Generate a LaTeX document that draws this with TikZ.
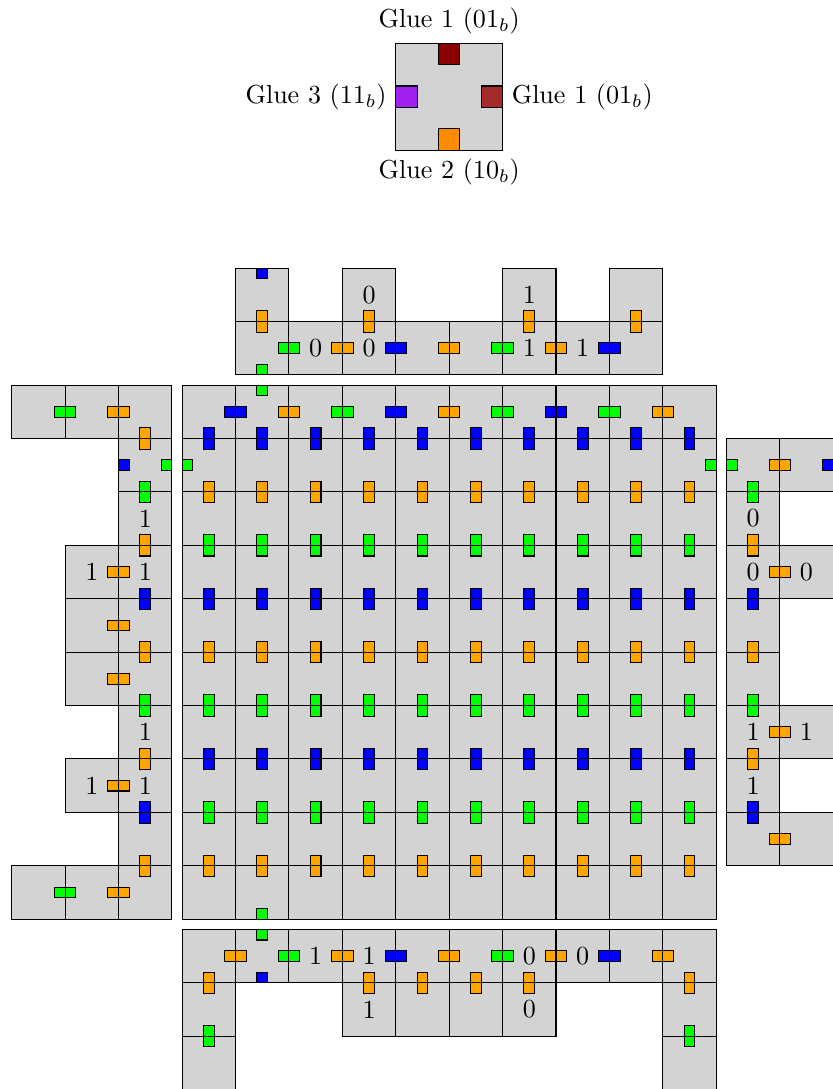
\documentclass[tikz,border=0pt]{standalone}
\usepackage{xcolor}

\definecolor{tilegray}{HTML}{D3D3D3}
\definecolor{gorange}{HTML}{FFA500}
\definecolor{ggreen}{HTML}{00FF00}
\definecolor{gblue}{HTML}{0000FF}
\definecolor{gdarkred}{HTML}{8B0000}
\definecolor{gbrown}{HTML}{A52A2A}
\definecolor{gpurple}{HTML}{A020F0}
\definecolor{gdarkorange}{HTML}{FF8C00}

\tikzset{
  tilebox/.style={draw=black, fill=tilegray},
  gluebox/.style={draw=black},
  bit/.style={inner sep=0pt},
}

% gap between the blocks
\newcommand{\tgap}{0.19}
% one glue square, lower left corner
\newcommand{\glueS}[3]{\filldraw[gluebox, fill=#1] (#2,#3) rectangle ++(0.2,0.2);}
% glue pair across a horizontal edge (column x, edge y)
\newcommand{\glueV}[3]{\glueS{#1}{#2+0.4}{#3-0.2}\glueS{#1}{#2+0.4}{#3}}
% glue pair across a vertical edge (edge x, row y)
\newcommand{\glueH}[3]{\glueS{#1}{#2-0.2}{#3+0.4}\glueS{#1}{#2}{#3+0.4}}

\begin{document}
\begin{tikzpicture}[x=0.72cm, y=0.72cm]
                \useasboundingbox (-3.41,-3.18) rectangle (12.17,17.21);

                % Tile type
                \draw[tilebox] (4,14.4) rectangle (6,16.4);
                \filldraw[gluebox, fill=gdarkred] (4.8,16) rectangle (5.2,16.4);
                \filldraw[gluebox, fill=gdarkorange] (4.8,14.4) rectangle (5.2,14.8);
                \filldraw[gluebox, fill=gpurple] (4,15.2) rectangle (4.4,15.6);
                \filldraw[gluebox, fill=gbrown] (5.6,15.2) rectangle (6,15.6);
                \node[above] (gnorth) at (5,16.4) {Glue 1 ($01_b$)};
                \node[below] (gsouth) at (5,14.4) {Glue 2 ($10_b$)};
                \node[left] (gwest) at (4,15.4) {Glue 3 ($11_b$)};
                \node[right] (geast) at (6,15.4) {Glue 1 ($01_b$)};

                % Main square
                \foreach \i in {0,...,9}
                    \foreach \j in {0,...,9}
                        {\draw[tilebox] (\i,\j) rectangle ++(1,1);}
                \foreach \j/\col in {9/gblue,8/gorange,7/ggreen,6/gblue,5/gorange,4/ggreen,3/gblue,2/ggreen,1/gorange}
                    \foreach \i in {0,...,9}
                        {\glueV{\col}{\i}{\j}}
                \foreach \x/\col in {1/gblue,2/gorange,3/ggreen,4/gblue,5/gorange,6/ggreen,7/gblue,8/ggreen,9/gorange}
                    {\glueH{\col}{\x}{9}}
                \glueS{ggreen}{1.4}{9.8}
                \glueS{ggreen}{1.4}{0}
                \glueS{ggreen}{0}{8.4}
                \glueS{ggreen}{9.8}{8.4}

                % Top block
                \foreach \i in {1,...,8}
                    {\draw[tilebox] (\i,10+\tgap) rectangle ++(1,1);}
                \foreach \i in {1,3,6,8}
                    {\draw[tilebox] (\i,11+\tgap) rectangle ++(1,1);}
                \glueS{gblue}{1.4}{11.8+\tgap}
                \glueS{ggreen}{1.4}{10+\tgap}
                \foreach \i in {1,3,6,8}
                    {\glueV{gorange}{\i}{11+\tgap}}
                \foreach \x/\col in {2/ggreen,3/gorange,4/gblue,5/gorange,6/ggreen,7/gorange,8/gblue}
                    {\glueH{\col}{\x}{10+\tgap}}
                \node[bit] (ta) at (2.5,10.5+\tgap) {0};
                \node[bit] (tb) at (3.5,10.5+\tgap) {0};
                \node[bit] (tc) at (6.5,10.5+\tgap) {1};
                \node[bit] (td) at (7.5,10.5+\tgap) {1};
                \node[bit] (te) at (3.5,11.5+\tgap) {0};
                \node[bit] (tf) at (6.5,11.5+\tgap) {1};

                % Bottom block
                \foreach \i in {0,...,9}
                    {\draw[tilebox] (\i,-1-\tgap) rectangle ++(1,1);}
                \foreach \i in {0,3,4,5,6,9}
                    {\draw[tilebox] (\i,-2-\tgap) rectangle ++(1,1);}
                \foreach \i in {0,9}
                    {\draw[tilebox] (\i,-3-\tgap) rectangle ++(1,1);}
                \glueS{ggreen}{1.4}{-0.2-\tgap}
                \glueS{gblue}{1.4}{-1-\tgap}
                \foreach \x/\col in {1/gorange,2/ggreen,3/gorange,4/gblue,5/gorange,6/ggreen,7/gorange,8/gblue,9/gorange}
                    {\glueH{\col}{\x}{-1-\tgap}}
                \foreach \i in {0,3,4,5,6,9}
                    {\glueV{gorange}{\i}{-1-\tgap}}
                \foreach \i in {0,9}
                    {\glueV{ggreen}{\i}{-2-\tgap}}
                \node[bit] (ba) at (2.5,-0.5-\tgap) {1};
                \node[bit] (bb) at (3.5,-0.5-\tgap) {1};
                \node[bit] (bc) at (6.5,-0.5-\tgap) {0};
                \node[bit] (bd) at (7.5,-0.5-\tgap) {0};
                \node[bit] (be) at (3.5,-1.5-\tgap) {1};
                \node[bit] (bf) at (6.5,-1.5-\tgap) {0};

                % Left block
                \foreach \j in {0,...,9}
                    {\draw[tilebox] (-1-\tgap,\j) rectangle ++(1,1);}
                \foreach \j in {0,2,4,5,6,9}
                    {\draw[tilebox] (-2-\tgap,\j) rectangle ++(1,1);}
                \foreach \j in {0,9}
                    {\draw[tilebox] (-3-\tgap,\j) rectangle ++(1,1);}
                \foreach \j in {0,9}
                    {\glueH{ggreen}{-2-\tgap}{\j}}
                \foreach \j in {0,2,4,5,6,9}
                    {\glueH{gorange}{-1-\tgap}{\j}}
                \foreach \j/\col in {9/gorange,8/ggreen,7/gorange,6/gblue,5/gorange,4/ggreen,3/gorange,2/gblue,1/gorange}
                    {\glueV{\col}{-1-\tgap}{\j}}
                \glueS{gblue}{-1-\tgap}{8.4}
                \glueS{ggreen}{-0.2-\tgap}{8.4}
                \node[bit] (la) at (-0.5-\tgap,7.5) {1};
                \node[bit] (lb) at (-1.5-\tgap,6.5) {1};
                \node[bit] (lc) at (-0.5-\tgap,6.5) {1};
                \node[bit] (ld) at (-0.5-\tgap,3.5) {1};
                \node[bit] (le) at (-1.5-\tgap,2.5) {1};
                \node[bit] (lf) at (-0.5-\tgap,2.5) {1};

                % Right block
                \foreach \j in {1,...,8}
                    {\draw[tilebox] (10+\tgap,\j) rectangle ++(1,1);}
                \foreach \j in {1,3,6,8}
                    {\draw[tilebox] (11+\tgap,\j) rectangle ++(1,1);}
                \foreach \j in {1,3,6,8}
                    {\glueH{gorange}{11+\tgap}{\j}}
                \foreach \j/\col in {8/ggreen,7/gorange,6/gblue,5/gorange,4/ggreen,3/gorange,2/gblue}
                    {\glueV{\col}{10+\tgap}{\j}}
                \glueS{ggreen}{10+\tgap}{8.4}
                \glueS{gblue}{11.8+\tgap}{8.4}
                \node[bit] (ra) at (10.5+\tgap,7.5) {0};
                \node[bit] (rb) at (10.5+\tgap,6.5) {0};
                \node[bit] (rc) at (11.5+\tgap,6.5) {0};
                \node[bit] (rd) at (10.5+\tgap,3.5) {1};
                \node[bit] (re) at (11.5+\tgap,3.5) {1};
                \node[bit] (rf) at (10.5+\tgap,2.5) {1};
            \end{tikzpicture}
\end{document}
